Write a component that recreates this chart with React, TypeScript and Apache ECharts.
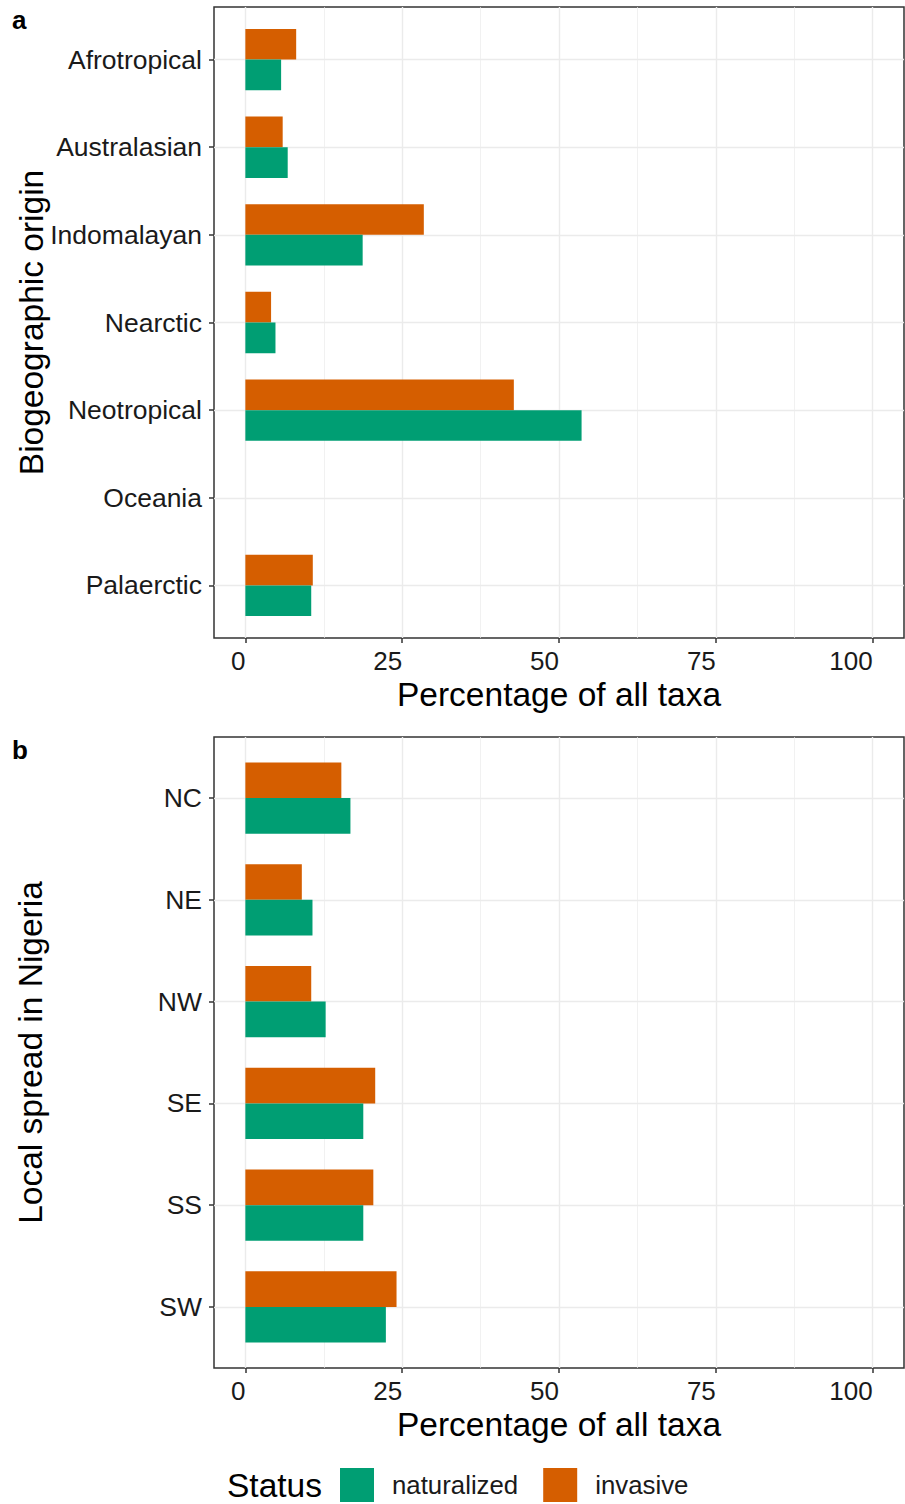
import React, { useEffect, useRef } from "react";
import * as echarts from "echarts";

const originCats = ["Afrotropical", "Australasian", "Indomalayan", "Nearctic", "Neotropical", "Oceania", "Palaerctic"];
const originNaturalized = [5.7, 6.75, 18.7, 4.8, 53.6, 0, 10.5];
const originInvasive = [8.1, 5.95, 28.45, 4.1, 42.8, 0, 10.75];

const regionCats = ["NC", "NE", "NW", "SE", "SS", "SW"];
const regionNaturalized = [16.75, 10.7, 12.8, 18.8, 18.8, 22.4];
const regionInvasive = [15.3, 9.0, 10.5, 20.7, 20.4, 24.1];

const xTicks = [0, 25, 50, 75, 100];
const xMinorTicks = [12.5, 37.5, 62.5, 87.5];
const statusNames = ["naturalized", "invasive"];
const statusColors = ["#009E73", "#D55E00"];

const FONT = "'Liberation Sans', Arial, sans-serif";
const TEXT = "#1a1a1a";
const DARK = "#333333";
const GRID = "#EBEBEB";
const BAR_W = 0.35;

function makeRender(offsetSign: number) {
  return (params: any, api: any) => {
    const v = api.value(0);
    const c = api.value(1);
    const center = c + offsetSign * BAR_W / 2;
    const p0 = api.coord([0, center - BAR_W / 2]);
    const p1 = api.coord([v, center + BAR_W / 2]);
    return {
      type: "rect",
      shape: {
        x: p0[0],
        y: Math.min(p0[1], p1[1]),
        width: p1[0] - p0[0],
        height: Math.abs(p1[1] - p0[1]),
      },
      style: api.style(),
    };
  };
}

function mainX(gridIndex: number) {
  return {
    type: "value",
    gridIndex,
    min: -5,
    max: 105,
    position: "bottom",
    axisLine: { show: false, onZero: false },
    axisTick: { show: true, length: 5, customValues: xTicks, lineStyle: { color: DARK, width: 1.5 } },
    axisLabel: {
      show: true,
      customValues: xTicks,
      align: "right",
      margin: 10,
      fontSize: 26,
      fontFamily: FONT,
      color: TEXT,
    },
    splitLine: { show: true, lineStyle: { color: GRID, width: 1.4 } },
    name: "Percentage of all taxa",
    nameLocation: "middle",
    nameGap: 39,
    nameMoveOverlap: false,
    nameTextStyle: { fontSize: 33.5, fontFamily: FONT, color: "#000" },
  };
}

function minorX(gridIndex: number) {
  return {
    type: "value",
    gridIndex,
    min: -5,
    max: 105,
    position: "bottom",
    axisLine: { show: false, onZero: false },
    axisTick: { show: false, customValues: xMinorTicks },
    axisLabel: { show: false, customValues: xMinorTicks },
    splitLine: { show: true, lineStyle: { color: GRID, width: 0.7 } },
  };
}

function catY(gridIndex: number, cats: string[], title: string, gap: number) {
  const idx = cats.map((_, i) => i);
  return {
    type: "value",
    gridIndex,
    min: -0.6,
    max: cats.length - 1 + 0.6,
    inverse: true,
    position: "left",
    axisLine: { show: false, onZero: false },
    axisTick: { show: true, length: 5, customValues: idx, lineStyle: { color: DARK, width: 1.5 } },
    axisLabel: {
      show: true,
      customValues: idx,
      margin: 12,
      fontSize: 26.5,
      fontFamily: FONT,
      color: TEXT,
      formatter: (v: number) => cats[Math.round(v)] ?? "",
    },
    splitLine: { show: true, lineStyle: { color: GRID, width: 1.4 } },
    name: title,
    nameLocation: "middle",
    nameRotate: 90,
    nameGap: gap,
    nameMoveOverlap: false,
    nameTextStyle: { fontSize: 33.5, fontFamily: FONT, color: "#000" },
  };
}

function seriesFor(gridIdx: number, values: number[], statusIdx: number) {
  return {
    type: "custom",
    name: statusNames[statusIdx],
    xAxisIndex: gridIdx,
    yAxisIndex: gridIdx,
    itemStyle: { color: statusColors[statusIdx] },
    encode: { x: 0, y: 1 },
    renderItem: makeRender(statusIdx === 1 ? -1 : 1),
    data: values.map((v, i) => [v, i]),
  };
}

export default function App() {
  const ref = useRef<HTMLDivElement>(null);
  useEffect(() => {
    if (!ref.current) return;
    const chart = echarts.init(ref.current, undefined, { renderer: "svg" });
    chart.setOption({
      animation: false,
      backgroundColor: "#ffffff",
      textStyle: { fontFamily: FONT },
      grid: [
        { left: 214, top: 7, width: 690, height: 631, show: true, borderColor: DARK, borderWidth: 1.5, backgroundColor: "transparent", containLabel: false, outerBoundsMode: "none" },
        { left: 214, top: 737, width: 690, height: 631, show: true, borderColor: DARK, borderWidth: 1.5, backgroundColor: "transparent", containLabel: false, outerBoundsMode: "none" },
      ],
      xAxis: [mainX(0), mainX(1), minorX(0), minorX(1)],
      yAxis: [
        catY(0, originCats, "Biogeographic origin", 166),
        catY(1, regionCats, "Local spread in Nigeria", 167),
      ],
      legend: {
        left: 340,
        top: 1468,
        padding: 0,
        itemWidth: 34,
        itemHeight: 34,
        itemGap: 25,
        icon: "rect",
        data: statusNames,
        textStyle: { fontSize: 25.8, fontFamily: FONT, color: TEXT, padding: [0, 0, 0, 13] },
      },
      graphic: [
        { type: "text", left: 12, top: 7, style: { text: "a", font: `bold 26px ${FONT}`, fill: "#000" } },
        { type: "text", left: 12, top: 737, style: { text: "b", font: `bold 26px ${FONT}`, fill: "#000" } },
        { type: "text", x: 227, y: 1485, style: { text: "Status", fontSize: 33.5, fontFamily: FONT, fill: "#000", verticalAlign: "middle" } },
      ],
      series: [
        seriesFor(0, originInvasive, 1),
        seriesFor(0, originNaturalized, 0),
        seriesFor(1, regionInvasive, 1),
        seriesFor(1, regionNaturalized, 0),
      ],
    });
    return () => chart.dispose();
  }, []);
  return <div ref={ref} style={{ position: "absolute", left: 0, top: 0, width: 905, height: 1504 }} />;
}
